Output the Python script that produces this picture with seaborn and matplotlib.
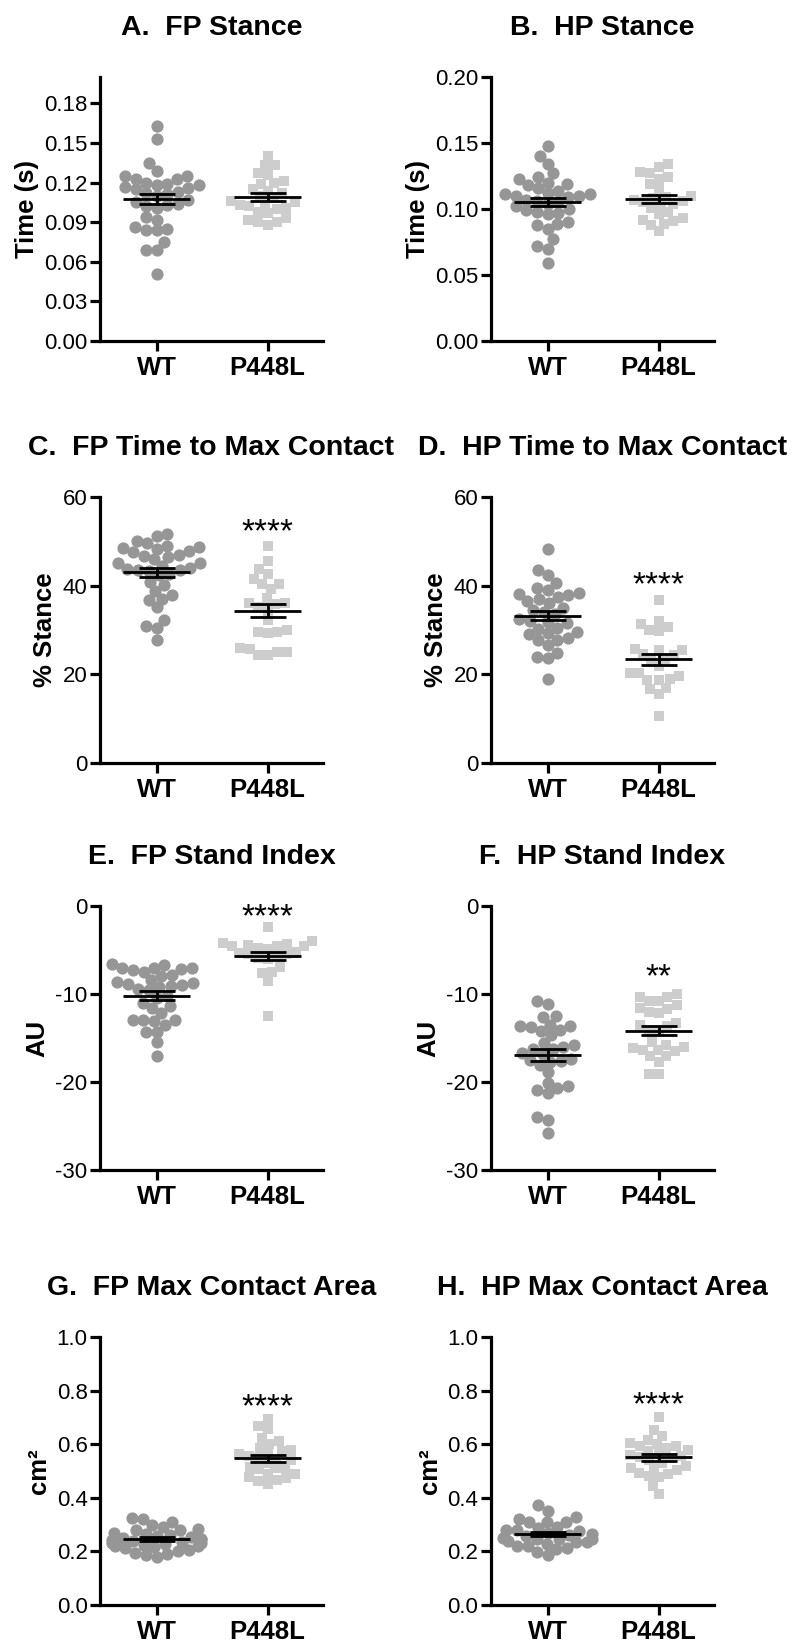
import numpy as np
import pandas as pd
import matplotlib
matplotlib.use('Agg')
import matplotlib.pyplot as plt
import seaborn as sns
from matplotlib.ticker import FormatStrFormatter

groups = ['WT', 'P448L']

# A. FP Stance (s)
fp_stance_wt = [0.163, 0.153, 0.135, 0.129, 0.125, 0.125, 0.123, 0.123, 0.120, 0.119, 0.118, 0.118,
                0.117, 0.116, 0.115, 0.113, 0.112, 0.111, 0.110, 0.107, 0.105, 0.104, 0.103, 0.102,
                0.101, 0.094, 0.092, 0.086, 0.085, 0.084, 0.084, 0.075, 0.069, 0.069, 0.051]
fp_stance_mut = [0.140, 0.133, 0.133, 0.127, 0.126, 0.121, 0.120, 0.119, 0.115, 0.114, 0.112, 0.110,
                 0.108, 0.106, 0.105, 0.104, 0.103, 0.102, 0.101, 0.100, 0.098, 0.097, 0.093, 0.092,
                 0.090, 0.090, 0.088]
# B. HP Stance (s)
hp_stance_wt = [0.148, 0.140, 0.134, 0.127, 0.124, 0.123, 0.120, 0.119, 0.118, 0.116, 0.114, 0.112,
                0.111, 0.111, 0.110, 0.110, 0.109, 0.107, 0.106, 0.105, 0.104, 0.102, 0.100, 0.099,
                0.098, 0.097, 0.096, 0.090, 0.089, 0.088, 0.085, 0.077, 0.072, 0.070, 0.059]
hp_stance_mut = [0.134, 0.132, 0.128, 0.127, 0.124, 0.123, 0.119, 0.115, 0.108, 0.106, 0.110, 0.109,
                 0.107, 0.105, 0.104, 0.103, 0.101, 0.098, 0.096, 0.093, 0.092, 0.091, 0.089, 0.088,
                 0.083]
# C. FP Time to Max Contact (% stance)
fp_ttmc_wt = [51.7, 51.1, 50.0, 49.6, 49.0, 48.7, 48.5, 48.3, 47.8, 47.6, 47.0, 46.8, 46.5, 46.0,
              45.2, 45.0, 44.5, 44.0, 43.8, 43.6, 43.5, 43.3, 42.7, 42.3, 40.9, 40.1, 38.8, 38.0,
              37.1, 36.7, 35.1, 32.2, 30.9, 30.5, 27.7]
fp_ttmc_mut = [48.9, 45.5, 43.8, 42.6, 41.5, 40.4, 40.4, 39.2, 37.2, 36.1, 36.1, 35.9, 35.3, 34.5,
               32.2, 30.1, 29.5, 29.5, 29.4, 25.9, 25.8, 25.0, 25.0, 24.4, 24.4]
# D. HP Time to Max Contact (% stance)
hp_ttmc_wt = [48.3, 43.5, 42.5, 40.6, 39.5, 39.0, 38.3, 38.2, 38.0, 37.4, 37.0, 36.5, 36.1, 35.0,
              34.6, 34.0, 33.6, 32.5, 32.0, 31.8, 31.5, 30.5, 30.3, 29.5, 29.3, 29.0, 28.2, 27.8,
              27.7, 26.7, 24.8, 23.8, 23.7, 18.9]
hp_ttmc_mut = [36.7, 32.0, 31.3, 30.7, 29.9, 29.8, 25.8, 25.6, 25.4, 24.5, 24.3, 23.4, 23.2, 21.8,
               20.3, 20.2, 19.6, 18.9, 18.8, 18.7, 16.9, 16.8, 15.6, 10.5]
# E. FP Stand Index (AU)
fp_si_wt = [-6.6, -6.7, -7.0, -7.0, -7.1, -7.2, -7.3, -7.5, -7.8, -8.0, -8.4, -8.6, -8.7, -8.9,
            -9.0, -9.1, -9.2, -9.4, -9.6, -10.2, -10.4, -11.0, -11.4, -11.6, -12.2, -12.9, -13.0,
            -13.1, -13.0, -13.5, -14.3, -14.3, -15.5, -17.1]
fp_si_mut = [-2.4, -4.0, -4.2, -4.3, -4.4, -4.5, -4.5, -4.6, -4.8, -4.9, -5.2, -5.3, -5.4, -5.5,
             -5.8, -5.9, -6.0, -6.9, -7.5, -7.6, -8.5, -12.5]
# F. HP Stand Index (AU)
hp_si_wt = [-10.8, -11.1, -12.5, -12.6, -13.5, -13.6, -13.6, -13.7, -14.1, -14.2, -14.7, -15.6,
            -15.8, -16.0, -16.2, -16.3, -16.7, -16.8, -17.4, -17.5, -17.6, -17.7, -18.1, -18.9,
            -20.1, -20.5, -20.7, -20.9, -21.3, -24.0, -24.3, -25.8]
hp_si_mut = [-10.0, -10.3, -10.3, -10.8, -10.8, -11.3, -11.6, -11.7, -12.1, -12.2, -13.3, -13.5,
             -13.6, -14.1, -14.2, -15.5, -15.8, -16.0, -16.1, -16.4, -16.4, -16.5, -17.0, -17.1,
             -17.7, -19.1, -19.1]
# G. FP Max Contact Area (cm2)
fp_area_wt = [0.325, 0.322, 0.308, 0.300, 0.290, 0.282, 0.280, 0.278, 0.270, 0.265, 0.262, 0.258,
              0.252, 0.250, 0.248, 0.245, 0.242, 0.240, 0.236, 0.232, 0.230, 0.228, 0.225, 0.222,
              0.220, 0.218, 0.212, 0.205, 0.200, 0.195, 0.190, 0.185, 0.180]
fp_area_mut = [0.694, 0.669, 0.656, 0.625, 0.612, 0.600, 0.585, 0.580, 0.575, 0.565, 0.562, 0.555,
               0.550, 0.545, 0.540, 0.530, 0.515, 0.512, 0.510, 0.508, 0.490, 0.488, 0.478, 0.475,
               0.465, 0.462, 0.450]
# H. HP Max Contact Area (cm2)
hp_area_wt = [0.373, 0.352, 0.327, 0.321, 0.311, 0.309, 0.309, 0.292, 0.288, 0.280, 0.278, 0.275,
              0.270, 0.265, 0.262, 0.258, 0.250, 0.248, 0.246, 0.245, 0.240, 0.236, 0.234, 0.228,
              0.222, 0.220, 0.212, 0.208, 0.198, 0.185]
hp_area_mut = [0.701, 0.654, 0.632, 0.615, 0.605, 0.600, 0.595, 0.592, 0.586, 0.580, 0.575, 0.565,
               0.558, 0.556, 0.552, 0.548, 0.540, 0.531, 0.520, 0.513, 0.510, 0.505, 0.494, 0.490,
               0.481, 0.478, 0.444, 0.414]

titles = ['A.  FP Stance', 'B.  HP Stance', 'C.  FP Time to Max Contact', 'D.  HP Time to Max Contact',
          'E.  FP Stand Index', 'F.  HP Stand Index', 'G.  FP Max Contact Area', 'H.  HP Max Contact Area']
ylabels = ['Time (s)', 'Time (s)', '% Stance', '% Stance', 'AU', 'AU', 'cm²', 'cm²']
significance = ['', '', '****', '****', '****', '**', '****', '****']
sig_levels = [None, None, 54.4, 42.4, -0.1, -6.9, 0.774, 0.785]
yticks = [[0.00, 0.03, 0.06, 0.09, 0.12, 0.15, 0.18], [0.00, 0.05, 0.10, 0.15, 0.20],
          [0, 20, 40, 60], [0, 20, 40, 60], [-30, -20, -10, 0], [-30, -20, -10, 0],
          [0.0, 0.2, 0.4, 0.6, 0.8, 1.0], [0.0, 0.2, 0.4, 0.6, 0.8, 1.0]]
ylims = [(0, 0.2), (0, 0.2), (0, 60), (0, 60), (-30, 0), (-30, 0), (0, 1.0), (0, 1.0)]
yfmt = ['%.2f', '%.2f', '%d', '%d', '%d', '%d', '%.1f', '%.1f']

data_wt = [fp_stance_wt, hp_stance_wt, fp_ttmc_wt, hp_ttmc_wt, fp_si_wt, hp_si_wt, fp_area_wt, hp_area_wt]
data_mut = [fp_stance_mut, hp_stance_mut, fp_ttmc_mut, hp_ttmc_mut, fp_si_mut, hp_si_mut, fp_area_mut, hp_area_mut]

WT_COLOR = '#969696'
MUT_COLOR = '#cdcdcd'
WT_SIZE, MUT_SIZE = 8.8, 7.8          # displayed marker sizes (pt)
WT_PACK, MUT_PACK = 7.5, 6.8          # sizes used for swarm packing (markers overlap a little, like Prism)

sns.set_theme(style='ticks')
plt.rcParams['font.family'] = ['Liberation Sans', 'DejaVu Sans']
plt.rcParams['axes.linewidth'] = 2.3
plt.rcParams['text.color'] = 'black'
plt.rcParams['axes.labelcolor'] = 'black'
plt.rcParams['xtick.color'] = 'black'
plt.rcParams['ytick.color'] = 'black'
plt.rcParams['axes.edgecolor'] = 'black'

W, H = 797, 1644
fig = plt.figure(figsize=(W / 100, H / 100), dpi=100)

col_left = [100, 491]
col_width = 223
row_top = [77, 497, 906, 1337]
row_bot = [341, 763, 1170, 1605]

swarm_colls = []
for k in range(8):
    r, c = divmod(k, 2)
    ax = fig.add_axes([col_left[c] / W, 1 - row_bot[r] / H, col_width / W, (row_bot[r] - row_top[r]) / H])
    wt = data_wt[k]
    mut = data_mut[k]
    df = pd.DataFrame({'group': ['WT'] * len(wt) + ['P448L'] * len(mut), 'value': wt + mut})
    n0 = len(ax.collections)
    sns.swarmplot(data=df[df.group == 'WT'], x='group', y='value', order=groups, color=WT_COLOR,
                  marker='o', size=WT_PACK, linewidth=0, ax=ax, warn_thresh=1, zorder=2)
    swarm_colls += [(cl, WT_SIZE) for cl in ax.collections[n0:]]
    n0 = len(ax.collections)
    sns.swarmplot(data=df[df.group == 'P448L'], x='group', y='value', order=groups, color=MUT_COLOR,
                  marker='s', size=MUT_PACK, linewidth=0, ax=ax, warn_thresh=1, zorder=2)
    swarm_colls += [(cl, MUT_SIZE) for cl in ax.collections[n0:]]
    for i, vals in enumerate([wt, mut]):
        v = np.asarray(vals)
        m = v.mean()
        se = v.std(ddof=1) / np.sqrt(len(v))
        ax.hlines(m, i - 0.3, i + 0.3, color='black', lw=2.0, zorder=5)
        ax.errorbar(i, m, yerr=se, color='black', capsize=13, capthick=2.0, elinewidth=2.0, zorder=5)
    ax.set_xlim(-0.51, 1.5)
    ax.set_ylim(*ylims[k])
    ax.set_yticks(yticks[k])
    ax.yaxis.set_major_formatter(FormatStrFormatter(yfmt[k]))
    ax.set_xlabel('')
    ax.set_ylabel(ylabels[k], fontsize=18.5, fontweight='bold', labelpad=4)
    ax.set_title(titles[k], fontsize=20.5, fontweight='bold', pad=30)
    sns.despine(ax=ax)
    ax.tick_params(axis='both', width=2.3, length=7, color='black')
    ax.tick_params(axis='y', labelsize=16, pad=2)
    ax.tick_params(axis='x', labelsize=18.5, pad=4)
    for lab in ax.get_xticklabels():
        lab.set_fontweight('bold')
    if significance[k]:
        ax.annotate(significance[k], xy=(1, sig_levels[k]), xytext=(0, -13.8), textcoords='offset points',
                    ha='center', va='baseline', fontsize=24)

# let seaborn compute the beeswarm layout, then freeze it and show the markers at full size
fig.canvas.draw()
for coll, sz in swarm_colls:
    if 'draw' in coll.__dict__:
        del coll.draw
    coll.set_sizes([sz ** 2])

fig.savefig('out.png', dpi=100)
